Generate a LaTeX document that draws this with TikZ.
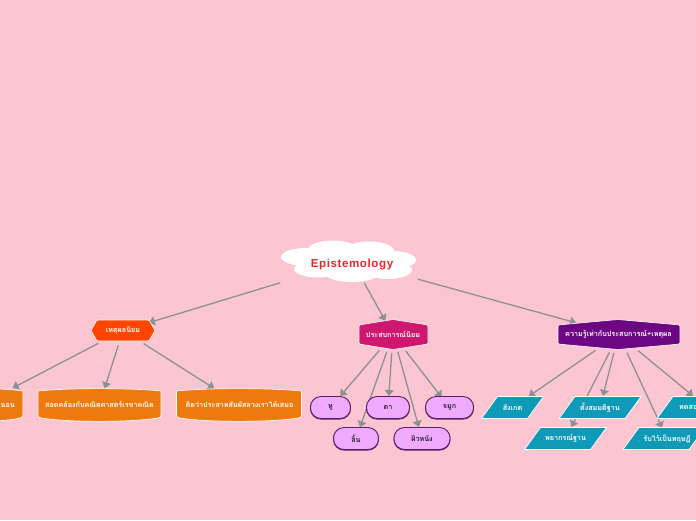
\documentclass[tikz,border=0pt]{standalone}
\usepackage{fontspec}
\newfontfamily\thaifont[Script=Thai]{Loma}
\setmainfont{Liberation Sans}
\usetikzlibrary{arrows.meta}
\definecolor{bgpink}{HTML}{FBC5D2}
\definecolor{linegray}{HTML}{8D9191}
\definecolor{orangehex}{HTML}{FF4500}
\definecolor{orangebox}{HTML}{EE7A0E}
\definecolor{magentabox}{HTML}{D0176F}
\definecolor{purplebox}{HTML}{6C0683}
\definecolor{lilac}{HTML}{F0AAFF}
\definecolor{lilacedge}{HTML}{5A1D66}
\definecolor{tealbox}{HTML}{0F9AB8}
\definecolor{titlered}{HTML}{E8262E}
\pgfdeclarelayer{back}
\pgfsetlayers{back,main}
\tikzset{
  x=1pt,y=-1pt,
  conn/.style={draw=linegray,line width=1.3pt,-{Triangle[length=6pt,width=9pt]}},
  lab/.style={font=\thaifont\fontsize{7.2}{8}\selectfont\bfseries,text=white,inner sep=0pt},
  pill/.style={draw=lilacedge,fill=lilac,line width=.9pt,rounded corners=10.5pt,minimum height=22pt,inner sep=0pt,
    font=\thaifont\fontsize{7.2}{8}\selectfont\bfseries,text=black!85,
    preaction={draw=lilacedge,line width=.9pt,transform canvas={yshift=-.6pt}}},
  bar/.style={fill=orangebox,draw=white,line width=.7pt,line join=round},
  para/.style={fill=tealbox,draw=white,line width=.7pt},
  hexa/.style={draw=white,line width=.6pt,line join=round,rounded corners=1.2pt},
}
\newcommand{\orangebar}[2]{%
  \path[bar]
    (#1-#2,391) .. controls (#1-#2*.5,387.8) and (#1+#2*.5,387.8) .. (#1+#2,391)
    -- (#1+#2,415) .. controls (#1+#2,417) and (#1+#2-1,417.5) .. (#1+#2-3,418)
    .. controls (#1+#2*.5,422.5) and (#1-#2*.5,422.5) .. (#1-#2+3,418)
    .. controls (#1-#2+1,417.5) and (#1-#2,417) .. (#1-#2,415) -- cycle;
}
\newcommand{\paral}[3]{%
  \path[para]
    (#1-#3,#2+11) -- (#1-#3+16,#2-11) -- (#1+#3,#2-11) -- (#1+#3-16,#2+11) -- cycle;
}
\newcommand{\link}[4]{\draw[conn,shorten <=#3pt,shorten >=#4pt] (#1) -- (#2);}
\begin{document}
\begin{tikzpicture}
\useasboundingbox (0,0) rectangle (696,520);
\begin{pgfonlayer}{back}
\fill[bgpink] (0,0) rectangle (696,520);
\end{pgfonlayer}
% cloud
\fill[white] (352,261) ellipse [x radius=50,y radius=14];
\fill[white] (306,257) ellipse [x radius=25,y radius=9];
\fill[white] (333,250) ellipse [x radius=25,y radius=9.5];
\fill[white] (369,251) ellipse [x radius=25,y radius=9.5];
\fill[white] (392,260) ellipse [x radius=24,y radius=9];
\fill[white] (318,269) ellipse [x radius=24,y radius=8.5];
\fill[white] (388,270) ellipse [x radius=24,y radius=9];
\fill[white] (352,274) ellipse [x radius=26,y radius=8];
\coordinate (cloudc) at (352,261);
\node[inner sep=0pt,font=\fontsize{11.6}{14}\selectfont\bfseries\addfontfeature{LetterSpace=5},text=titlered] (root) at (352,264.5) {Epistemology};
% level 1 shapes
\path[hexa,fill=orangehex] (91,330.5) -- (97,320) -- (149,320) -- (155,330.5) -- (149,341) -- (97,341) -- cycle;
\node[lab] (rat) at (123,330.5) {เหตุผลนิยม};
\path[hexa,fill=magentabox] (359,325) -- (393,319.5) -- (428,325) -- (428,344) -- (393,349.5) -- (359,344) -- cycle;
\node[lab] (emp) at (393,334.5) {ประสบการณ์นิยม};
\path[hexa,fill=purplebox] (558,325) -- (618,319.5) -- (680,325) -- (680,344) -- (618,349.5) -- (558,344) -- cycle;
\node[lab] (both) at (618.5,334.5) {ความรู้เท่ากับประสบการณ์+เหตุผล};
% level 2 orange
\orangebar{-20}{43}
\orangebar{99.5}{61.5}
\orangebar{239}{62.5}
\coordinate (acentre) at (-20,405);
\node[lab,anchor=east] (a) at (15,404.5) {แน่นอน};
\node[lab] (b) at (99.5,404.5) {สอดคล้องกับคณิตศาสตร์เรขาคณิต};
\node[lab] (c) at (239.5,404.5) {คิดว่าประสาทสัมผัสลวงเราได้เสมอ};
% pills
\node[pill,minimum width=40pt] (hu) at (330.5,407.5) {หู};
\node[pill,minimum width=43pt] (ta) at (388,407.5) {ตา};
\node[pill,minimum width=48pt] (ja) at (449.5,407.5) {จมูก};
\node[pill,minimum width=45pt] (li) at (356,438.5) {ลิ้น};
\node[pill,minimum width=56pt] (pi) at (422,438.5) {ผิวหนัง};
% teal
\paral{512.5}{407.5}{31}
\paral{600}{407.5}{41}
\paral{707}{407.5}{50}
\paral{565.5}{438.5}{41}
\paral{664}{438.5}{41}
\coordinate (tocentre) at (707,407.5);
\node[lab] (sa) at (512.5,407.5) {สังเกต};
\node[lab] (tn) at (600,407.5) {ตั้งสมมติฐาน};
\node[lab,anchor=west] (to) at (679,407.5) {ทดสอบ};
\node[lab] (py) at (565.5,438.5) {พยากรณ์ฐาน};
\node[lab] (rb) at (667,438.5) {รับไว้เป็นทฤษฎี};
% connectors, behind the shapes
\begin{pgfonlayer}{back}
\link{cloudc}{rat.center}{75}{27}
\link{cloudc}{emp.center}{25}{15.7}
\link{cloudc}{both.center}{68}{44}
\link{rat.center}{acentre}{27.8}{36.7}
\link{rat.center}{b.center}{15.8}{17}
\link{rat.center}{c.center}{24.4}{30}
\link{emp.center}{hu.center}{21}{15}
\link{emp.center}{li.center}{18.5}{12}
\link{emp.center}{ta.center}{18.5}{11.5}
\link{emp.center}{pi.center}{18}{12}
\link{emp.center}{ja.center}{21}{13}
\link{both.center}{sa.center}{28}{19.8}
\link{both.center}{py.center}{20}{13}
\link{both.center}{tn.center}{19}{12}
\link{both.center}{rb.center}{20}{11.7}
\link{both.center}{tocentre}{25.5}{18}
\end{pgfonlayer}
\end{tikzpicture}
\end{document}
